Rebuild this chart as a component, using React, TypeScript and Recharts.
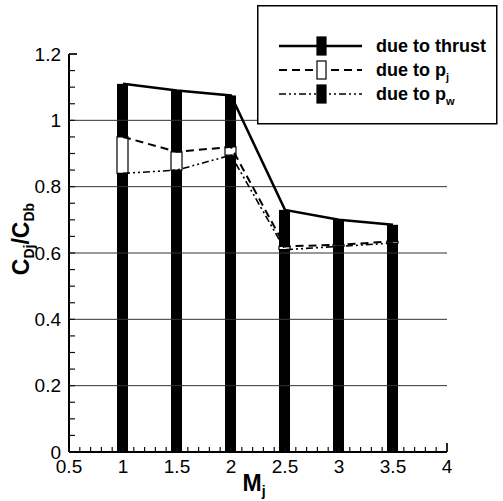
import { Bar, ComposedChart, Line, ReferenceLine, XAxis, YAxis } from "recharts";

const machNumbers = [1, 1.5, 2, 2.5, 3, 3.5];
const thrustRatio = [1.11, 1.09, 1.075, 0.73, 0.7, 0.685];
const jetRatio = [0.95, 0.905, 0.92, 0.62, 0.625, 0.635];
const wallRatio = [0.84, 0.85, 0.895, 0.61, 0.62, 0.63];

const xTickLabels = ["0.5", "1", "1.5", "2", "2.5", "3", "3.5", "4"];
const yTickLabels = ["0", "0.2", "0.4", "0.6", "0.8", "1", "1.2"];
const gridLevels = [0.2, 0.4, 0.6, 0.8, 1];

const legendItems = [
  { label: "due to thrust", sub: "", dash: undefined, width: 2.5, box: "#000" },
  { label: "due to p", sub: "j", dash: "8 5", width: 2, box: "#fff" },
  { label: "due to p", sub: "w", dash: "7 3 2 3 2 3", width: 1.6, box: "#000" },
];

// every tick position, minor ones included (labels only on the majors)
const xAllTicks = Array.from({ length: 36 }, (_, i) => Math.round((0.5 + i * 0.1) * 10) / 10);
const yAllTicks = Array.from({ length: 25 }, (_, i) => Math.round(i * 5) / 100);

const FONT = "'Liberation Sans', Arial, Helvetica, sans-serif";
const TICK_GAP = 8;

const rows = machNumbers.map((mach, i) => ({
  mach,
  thrust: thrustRatio[i],
  pj: jetRatio[i],
  pw: wallRatio[i],
  base: wallRatio[i],
  gap: jetRatio[i] - wallRatio[i],
  cap: thrustRatio[i] - jetRatio[i],
}));

function labelFor(labels: string[], v: number) {
  return labels.find((l) => Math.abs(Number(l) - v) < 1e-6);
}

// inward tick mark plus label on the majors
function YTick({ x, y, payload }: any) {
  const axisX = x + TICK_GAP;
  const label = labelFor(yTickLabels, payload.value);
  const top = payload.value === 1.2;
  return (
    <g>
      <line x1={axisX} x2={axisX + (top ? 8 : 6)} y1={y} y2={y} stroke="#111" strokeWidth={top ? 1.8 : 1.2} />
      {label && (
        <text x={x} y={y} dy="0.355em" textAnchor="end" fontFamily={FONT} fontSize={19} fill="#000">
          {label}
        </text>
      )}
    </g>
  );
}

function XTick({ x, y, payload }: any) {
  const axisY = y - TICK_GAP;
  const label = labelFor(xTickLabels, payload.value);
  const end = payload.value === 4;
  return (
    <g>
      <line x1={x} x2={x} y1={axisY} y2={axisY - (end ? 9 : 5)} stroke="#111" strokeWidth={end ? 1.8 : 1.2} />
      {label && (
        <text x={x} y={y} dy="0.71em" textAnchor="middle" fontFamily={FONT} fontSize={19} fill="#000">
          {label}
        </text>
      )}
    </g>
  );
}

function YTitle({ viewBox }: any) {
  const cx = viewBox.x;
  const cy = viewBox.y + viewBox.height / 2 - 14;
  return (
    <text
      x={cx}
      y={cy}
      transform={`rotate(-90 ${cx} ${cy})`}
      textAnchor="middle"
      fontFamily={FONT}
      fontWeight="bold"
      fontSize={23}
      fill="#000"
    >
      C
      <tspan fontSize={14} dy={5}>Dj</tspan>
      <tspan fontSize={23} dy={-5}>/C</tspan>
      <tspan fontSize={14} dy={5}>Db</tspan>
    </text>
  );
}

function XTitle({ viewBox }: any) {
  const cx = viewBox.x + viewBox.width / 2 - 4;
  const cy = viewBox.y + 39;
  return (
    <text x={cx} y={cy} textAnchor="middle" fontFamily={FONT} fontWeight="bold" fontSize={23} fill="#000">
      M
      <tspan fontSize={14} dy={5}>j</tspan>
    </text>
  );
}

function Legend() {
  return (
    <svg width={241} height={120} style={{ position: "absolute", left: 257, top: 5 }}>
      <rect x={0.75} y={0.75} width={239} height={118} fill="#fff" stroke="#000" strokeWidth={1.5} />
      {legendItems.map((item, i) => {
        const y = 41 + i * 24;
        return (
          <g key={i}>
            <line x1={22} x2={105} y1={y} y2={y} stroke="#000" strokeWidth={item.width} strokeDasharray={item.dash} />
            <rect x={60} y={y - 9} width={9} height={18} fill={item.box} stroke="#000" strokeWidth={1.2} />
            <text x={119} y={y + 6} fontFamily={FONT} fontWeight="bold" fontSize={18} fill="#000">
              {item.label}
              {item.sub && (
                <tspan fontSize={11} dy={5}>
                  {item.sub}
                </tspan>
              )}
            </text>
          </g>
        );
      })}
    </svg>
  );
}

export default function App() {
  return (
    <div style={{ position: "absolute", left: 0, top: 0, width: 503, height: 501, background: "#fff" }}>
      <ComposedChart
        width={503}
        height={501}
        data={rows}
        margin={{ top: 54, right: 56, bottom: 19, left: 29 }}
      >
        <XAxis
          dataKey="mach"
          type="number"
          domain={[0.5, 4]}
          ticks={xAllTicks}
          allowDataOverflow
          interval={0}
          height={30}
          tickSize={0}
          tickMargin={TICK_GAP}
          tickLine={false}
          axisLine={{ stroke: "#000", strokeWidth: 2 }}
          tick={<XTick />}
          label={{ content: <XTitle /> }}
        />
        <YAxis
          type="number"
          domain={[0, 1.2]}
          ticks={yAllTicks}
          allowDataOverflow
          interval={0}
          width={40}
          tickSize={0}
          tickMargin={TICK_GAP}
          tickLine={false}
          axisLine={{ stroke: "#000", strokeWidth: 2 }}
          tick={<YTick />}
          label={{ content: <YTitle /> }}
        />
        {gridLevels.map((v) => (
          <ReferenceLine key={v} y={v} stroke="#333" strokeWidth={1} />
        ))}
        <Line dataKey="thrust" type="linear" stroke="#000" strokeWidth={2.5} dot={false} isAnimationActive={false} />
        <Line
          dataKey="pj"
          type="linear"
          stroke="#000"
          strokeWidth={2}
          strokeDasharray="8 5"
          dot={false}
          isAnimationActive={false}
        />
        <Line
          dataKey="pw"
          type="linear"
          stroke="#000"
          strokeWidth={1.6}
          strokeDasharray="7 3 2 3 2 3"
          dot={false}
          isAnimationActive={false}
        />
        <Bar dataKey="base" stackId="c" barSize={11} fill="#000" isAnimationActive={false} />
        <Bar dataKey="gap" stackId="c" barSize={11} fill="#fff" stroke="#000" strokeWidth={1.2} isAnimationActive={false} />
        <Bar dataKey="cap" stackId="c" barSize={11} fill="#000" isAnimationActive={false} />
      </ComposedChart>
      <Legend />
    </div>
  );
}
